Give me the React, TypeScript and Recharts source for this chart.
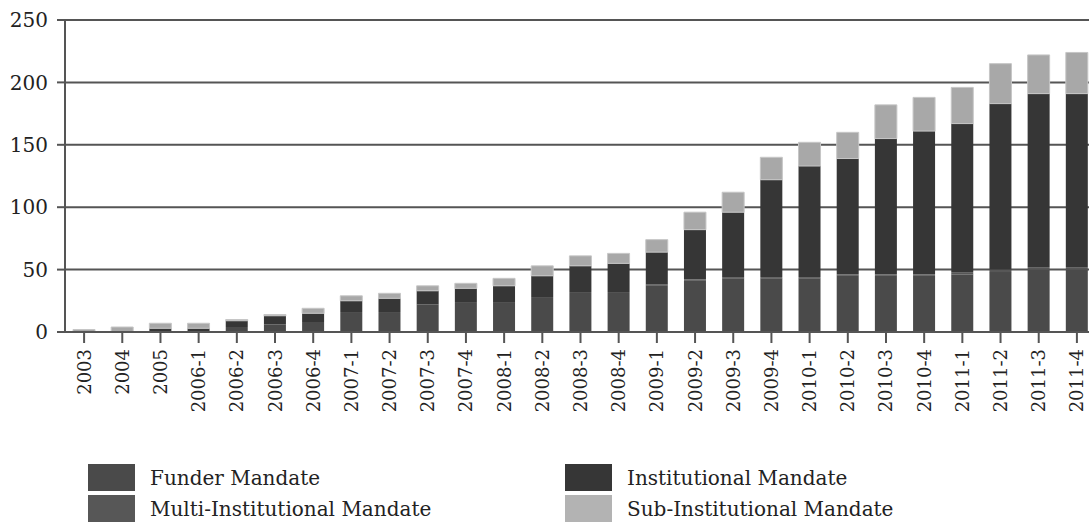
import React from "react";
import { BarChart, Bar, XAxis, YAxis, CartesianGrid } from "recharts";

const CATEGORIES = [
  "2003", "2004", "2005", "2006-1", "2006-2", "2006-3", "2006-4",
  "2007-1", "2007-2", "2007-3", "2007-4", "2008-1", "2008-2", "2008-3",
  "2008-4", "2009-1", "2009-2", "2009-3", "2009-4", "2010-1", "2010-2",
  "2010-3", "2010-4", "2011-1", "2011-2", "2011-3", "2011-4",
];

const FUNDER = [0, 0, 0, 0, 4, 6, 8, 16, 16, 22, 24, 24, 28, 32, 32, 37, 41, 43, 43, 43, 45, 45, 45, 46, 48, 50, 50];
const MULTI = [0, 0, 0, 0, 0, 0, 0, 0, 0, 0, 0, 0, 0, 0, 0, 1, 1, 1, 1, 1, 1, 1, 1, 2, 2, 2, 2];
const INSTITUTIONAL = [0, 0, 3, 3, 5, 7, 7, 9, 11, 11, 11, 13, 17, 21, 23, 26, 40, 52, 78, 89, 93, 109, 115, 119, 133, 139, 139];
const SUB = [2, 4, 4, 4, 1, 1, 4, 4, 4, 4, 4, 6, 8, 8, 8, 10, 14, 16, 18, 19, 21, 27, 27, 29, 32, 31, 33];

const Y_TICKS = [0, 50, 100, 150, 200, 250];

const SERIES = [
  { key: "funder", name: "Funder Mandate", color: "#4a4a4a" },
  { key: "multi", name: "Multi-Institutional Mandate", color: "#575757" },
  { key: "institutional", name: "Institutional Mandate", color: "#363636" },
  { key: "sub", name: "Sub-Institutional Mandate", color: "#a8a8a8" },
];

const FONT = "'DejaVu Serif', serif";

const data = CATEGORIES.map((label, i) => ({
  label,
  funder: FUNDER[i],
  multi: MULTI[i],
  institutional: INSTITUTIONAL[i],
  sub: SUB[i],
}));

function XTick(props: any) {
  const { x, y, payload } = props;
  return (
    <text
      transform={`translate(${x},${y}) rotate(-90)`}
      textAnchor="end"
      dy="0.36em"
      fontFamily={FONT}
      fontSize={18}
      fill="#222"
    >
      {payload.value}
    </text>
  );
}

// legend: left column Funder / Multi, right column Institutional / Sub
const LEGEND_ITEMS = [
  { series: SERIES[0], left: 88, top: 464 },
  { series: SERIES[1], left: 88, top: 495 },
  { series: SERIES[2], left: 565, top: 464 },
  { series: SERIES[3], left: 565, top: 495 },
];

function Legend() {
  return (
    <>
      {LEGEND_ITEMS.map(({ series, left, top }) => (
        <React.Fragment key={series.key}>
          <div
            style={{
              position: "absolute",
              left,
              top,
              width: 47,
              height: 27,
              background: series.key === "sub" ? "#b3b3b3" : series.color,
            }}
          />
          <div
            style={{
              position: "absolute",
              left: left + 62,
              top: top + 4,
              fontFamily: FONT,
              fontSize: 20,
              lineHeight: "20px",
              color: "#222",
              whiteSpace: "nowrap",
            }}
          >
            {series.name}
          </div>
        </React.Fragment>
      ))}
    </>
  );
}

export default function App() {
  return (
    <div
      style={{
        position: "absolute",
        left: 0,
        top: 0,
        width: 1089,
        height: 528,
        overflow: "hidden",
        background: "#fff",
      }}
    >
      <BarChart
        width={1100}
        height={528}
        data={data}
        margin={{ top: 20, right: 4, bottom: 76, left: 0 }}
        barSize={22}
      >
        <CartesianGrid vertical={false} stroke="#555" strokeWidth={2} />
        <XAxis
          dataKey="label"
          interval={0}
          height={120}
          tick={<XTick />}
          tickSize={11}
          tickMargin={6}
          axisLine={{ stroke: "#555", strokeWidth: 2 }}
          tickLine={{ stroke: "#555", strokeWidth: 2 }}
        />
        <YAxis
          width={65}
          domain={[0, 250]}
          ticks={Y_TICKS}
          interval={0}
          tickSize={8}
          tickMargin={9}
          tick={{ fontFamily: FONT, fontSize: 20, fill: "#222" }}
          axisLine={{ stroke: "#555", strokeWidth: 2 }}
          tickLine={{ stroke: "#555", strokeWidth: 2 }}
        />
        {SERIES.map((s) => (
          <Bar
            key={s.key}
            dataKey={s.key}
            name={s.name}
            stackId="a"
            fill={s.color}
            stroke={s.key === "sub" ? "#c6c6c6" : undefined}
            strokeWidth={s.key === "sub" ? 1 : 0}
            isAnimationActive={false}
          />
        ))}
      </BarChart>
      <Legend />
    </div>
  );
}
